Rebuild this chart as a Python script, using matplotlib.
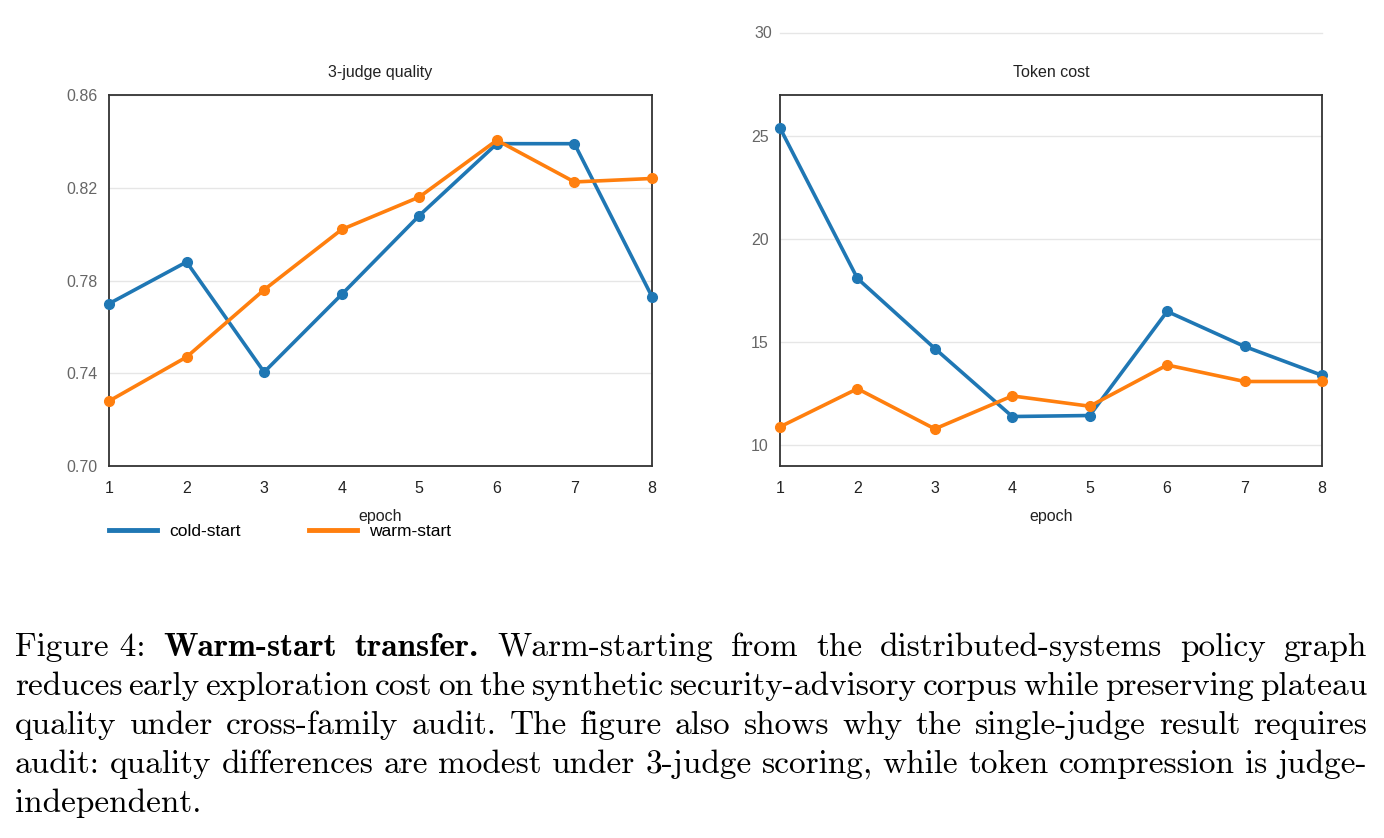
import matplotlib
matplotlib.use("Agg")
import matplotlib.pyplot as plt

# data
epochs = [1, 2, 3, 4, 5, 6, 7, 8]
quality_cold = [0.770, 0.788, 0.7405, 0.774, 0.808, 0.839, 0.839, 0.773]
quality_warm = [0.728, 0.747, 0.776, 0.802, 0.816, 0.8405, 0.8225, 0.824]
cost_cold = [25.4, 18.1, 14.7, 11.4, 11.45, 16.5, 14.8, 13.4]
cost_warm = [10.9, 12.75, 10.8, 12.4, 11.9, 13.9, 13.1, 13.1]
quality_ticks = [0.70, 0.74, 0.78, 0.82, 0.86]
cost_ticks = [10, 15, 20, 25]
series_names = ["cold-start", "warm-start"]

caption_lines = [
    [("Figure 4:", "cmr10"), ("Warm-start", "cmb10"), ("transfer.", "cmb10"),
     ("Warm-starting", "cmr10"), ("from", "cmr10"), ("the", "cmr10"),
     ("distributed-systems", "cmr10"), ("policy", "cmr10"), ("graph", "cmr10")],
    "reduces early exploration cost on the synthetic security-advisory corpus while preserving plateau",
    "quality under cross-family audit.  The figure also shows why the single-judge result requires",
    "audit: quality differences are modest under 3-judge scoring, while token compression is judge-",
    "independent.",
]

BLUE = "#1f77b4"
ORANGE = "#ff7f0e"
W, H = 1384, 838

plt.rcParams["font.family"] = ["Liberation Sans", "DejaVu Sans"]
fig = plt.figure(figsize=(W / 100, H / 100), dpi=100)


def px_axes(x0, x1, y0, y1):
    return fig.add_axes([x0 / W, 1 - y1 / H, (x1 - x0) / W, (y1 - y0) / H])


def style(ax, title):
    ax.set_title(title, fontsize=11.5, color="#222222", pad=13)
    ax.set_xlim(1, 8)
    ax.set_xticks(epochs)
    ax.tick_params(length=0, labelsize=11.5, labelcolor="#666666")
    ax.tick_params(axis="x", pad=11, labelcolor="#222222")
    ax.tick_params(axis="y", pad=8)
    ax.grid(axis="y", color="#e6e6e6", lw=1)
    ax.set_axisbelow(True)
    for s in ax.spines.values():
        s.set_color("#333333")
        s.set_linewidth(1.3)
    ax.set_xlabel("epoch", fontsize=11.5, color="#222222", labelpad=9)


ax1 = px_axes(109, 652, 95, 466)
ax1.plot(epochs, quality_cold, color=BLUE, lw=2.6, marker="o", ms=7, clip_on=False, zorder=3)
ax1.plot(epochs, quality_warm, color=ORANGE, lw=2.6, marker="o", ms=7, clip_on=False, zorder=4)
ax1.set_ylim(0.70, 0.86)
ax1.set_yticks(quality_ticks)
ax1.set_yticklabels([f"{v:.2f}" for v in quality_ticks])
style(ax1, "3-judge quality")

ax2 = px_axes(780, 1322, 95, 466)
ax2.plot(epochs, cost_cold, color=BLUE, lw=2.6, marker="o", ms=7, clip_on=False, zorder=3)
ax2.plot(epochs, cost_warm, color=ORANGE, lw=2.6, marker="o", ms=7, clip_on=False, zorder=4)
ax2.set_ylim(9, 27)
ax2.set_yticks(cost_ticks)
style(ax2, "Token cost")
# stray 30 gridline sitting above the frame
ax2.plot([1, 8], [30, 30], color="#e6e6e6", lw=1, clip_on=False, zorder=0)
ax2.text(-0.0148, 30, "30", transform=ax2.get_yaxis_transform(), ha="right", va="center",
         fontsize=11.5, color="#666666")

handles = [plt.Line2D([], [], color=BLUE, lw=3.5), plt.Line2D([], [], color=ORANGE, lw=3.5)]
fig.legend(handles, series_names, loc="center left", bbox_to_anchor=(109 / W, 1 - 531 / H),
           ncol=2, frameon=False, fontsize=12.5, handlelength=2.76, handletextpad=0.69,
           columnspacing=3.97, borderpad=0, borderaxespad=0)

# justified caption
fs = 24
left, right = 15, 1367
fig.canvas.draw()
renderer = fig.canvas.get_renderer()
for i, line in enumerate(caption_lines):
    if isinstance(line, str):
        words = [(w, "cmr10") for w in line.split()]
    else:
        words = line
    y = 1 - (656 + 39 * i) / H
    texts = [fig.text(0, y, w, fontsize=fs, family=f, va="baseline", ha="left") for w, f in words]
    widths = [t.get_window_extent(renderer).width for t in texts]
    if i < len(caption_lines) - 1:
        gap = (right - left - sum(widths)) / (len(words) - 1)
    else:
        gap = fs * 100 / 72 * 0.333
    x = left
    for t, wd in zip(texts, widths):
        t.set_x(x / W)
        x += wd + gap

fig.savefig("out.png", dpi=100)
